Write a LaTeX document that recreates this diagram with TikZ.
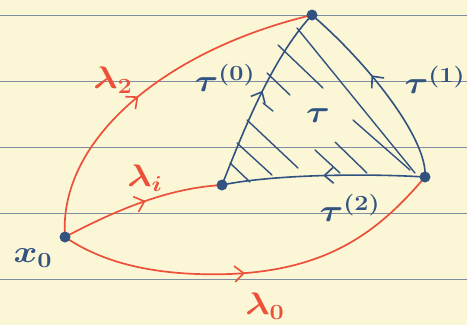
\documentclass[tikz,border=0pt]{standalone}
\usetikzlibrary{arrows.meta,decorations.markings}
\definecolor{paper}{RGB}{250,246,214}
\definecolor{ruleink}{RGB}{128,140,160}
\definecolor{redink}{RGB}{236,80,56}
\definecolor{blueink}{RGB}{50,82,128}
\newcommand\handlbl[1]{\scalebox{1.75}[1.5]{\boldmath#1}}
\begin{document}
\begin{tikzpicture}[x=1pt,y=-1pt,
  redpath/.style={redink,line width=1.7pt,line cap=round},
  bluepath/.style={blueink,line width=1.6pt,line cap=round},
  hatchline/.style={blueink,line width=1.4pt,line cap=round},
  ruled/.style={ruleink,line width=0.8pt},
  midarrow/.style={postaction={decorate},decoration={markings,
     mark=at position #1 with {\arrow{Straight Barb[length=9pt,width=16pt,line width=1.6pt]}}}},
  dotnode/.style={circle,fill=blueink,inner sep=0pt,minimum size=11pt},
  redlabel/.style={text=redink,font=\huge,inner sep=0pt},
  bluelabel/.style={text=blueink,font=\huge,inner sep=0pt},
]
\fill[paper] (0,0) rectangle (467,325);
\useasboundingbox (0,0) rectangle (467,325);
% ruled lines
\foreach \yy in {15,81,147,213,279}
  \draw[ruled] (0,\yy) -- (467,\yy);

% vertices
\coordinate (x0) at (65,237);
\coordinate (A) at (312,15);
\coordinate (M) at (222,185);
\coordinate (R) at (425,177);

% hatching
\draw[hatchline] (297,28) -- (415,173);
\draw[hatchline] (278,45) -- (323,88);
\draw[hatchline] (267,73) -- (290,95);
\draw[hatchline] (263,103) -- (273,111);
\draw[hatchline] (247,120) -- (298,168);
\draw[hatchline] (237,143) -- (272,175);
\draw[hatchline] (230,163) -- (250,182);
\draw[hatchline] (315,150) -- (340,173);
\draw[hatchline] (335,142) -- (367,173);
\draw[hatchline] (353,120) -- (410,170);

% red paths
\draw[redpath,midarrow=0.46] (x0) .. controls (58,140) and (165,50) .. (A);
\draw[redpath,midarrow=0.53] (x0) .. controls (120,208) and (170,188) .. (M);
\draw[redpath,midarrow=0.47] (x0) .. controls (110,268) and (170,276) .. (230,274)
   .. controls (330,270) and (380,230) .. (R);

% blue paths
\draw[bluepath,midarrow=0.53] (M) .. controls (240,140) and (270,60) .. (A);
\draw[bluepath,midarrow=0.58] (R) .. controls (428,140) and (370,65) .. (A);
\draw[bluepath,midarrow=0.5] (R) .. controls (360,173) and (270,175) .. (M);

% dots
\node[dotnode] (dx0) at (x0) {};
\node[dotnode] (dA) at (A) {};
\node[dotnode] (dM) at (M) {};
\node[dotnode] (dR) at (R) {};

% labels
\node[redlabel] (l2) at (113,80) {\handlbl{$\lambda_2$}};
\node[redlabel] (li) at (145,178) {\handlbl{$\lambda_i$}};
\node[redlabel] (l0) at (265,306) {\handlbl{$\lambda_0$}};
\node[bluelabel] (xl) at (33,258) {\handlbl{$x_0$}};
\node[bluelabel] (t0) at (225,78) {\handlbl{$\tau^{(0)}$}};
\node[bluelabel] (t1) at (435,80) {\handlbl{$\tau^{(1)}$}};
\node[bluelabel] (t2) at (350,208) {\handlbl{$\tau^{(2)}$}};
\node[bluelabel] (t) at (318,116) {\handlbl{$\tau$}};
\end{tikzpicture}
\end{document}
